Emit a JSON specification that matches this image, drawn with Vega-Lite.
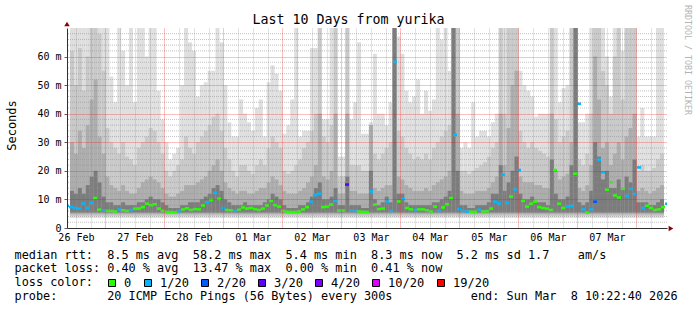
{
"$schema": "https://vega.github.io/schema/vega-lite/v6.json",
"width": 600, "height": 200,
"autosize": "none",
"padding": {"left": 67, "top": 28, "right": 30, "bottom": 82},
"background": "white",
"config": {"view": {"stroke": null}, "font": "DejaVu Sans Mono"},
"title": {"text": "Last 10 Days from yurika", "font": "DejaVu Sans Mono", "fontSize": 13.3, "fontWeight": "normal", "color": "#000", "anchor": "middle", "frame": "group", "dx": -18.5, "offset": 0, "dy": 32, "baseline": "alphabetic"},
"data": {"values": [
{"t":"2026-02-26T10:24Z","m":7.8,"l":"1/20","a":70,"b":62,"c":30,"d":13},
{"t":"2026-02-26T12:00Z","m":7.3,"l":"1/20","a":70,"b":50,"c":26,"d":12},
{"t":"2026-02-26T13:36Z","m":7.0,"l":"1/20","a":70,"b":63,"c":34,"d":14},
{"t":"2026-02-26T15:12Z","m":6.8,"l":"1/20","a":70,"b":48,"c":28,"d":12},
{"t":"2026-02-26T16:48Z","m":8.6,"l":"1/20","a":70,"b":60,"c":36,"d":15},
{"t":"2026-02-26T18:24Z","m":7.0,"l":"1/20","a":70,"b":70,"c":45,"d":18},
{"t":"2026-02-26T20:00Z","m":8.8,"l":"1/20","a":70,"b":70,"c":52,"d":20},
{"t":"2026-02-26T21:36Z","m":10.5,"l":"0","a":70,"b":68,"c":32,"d":16},
{"t":"2026-02-26T23:12Z","m":6.4,"l":"0","a":70,"b":55,"c":26,"d":11},
{"t":"2026-02-27T00:48Z","m":6.2,"l":"1/20","a":70,"b":35,"c":18,"d":9},
{"t":"2026-02-27T02:24Z","m":6.0,"l":"0","a":53,"b":30,"c":15,"d":9},
{"t":"2026-02-27T04:00Z","m":6.0,"l":"0","a":44,"b":28,"c":14,"d":8},
{"t":"2026-02-27T05:36Z","m":5.8,"l":"0","a":70,"b":26,"c":13,"d":8},
{"t":"2026-02-27T07:12Z","m":6.5,"l":"1/20","a":62,"b":30,"c":15,"d":9},
{"t":"2026-02-27T08:48Z","m":6.2,"l":"0","a":50,"b":25,"c":13,"d":8},
{"t":"2026-02-27T10:24Z","m":6.0,"l":"0","a":70,"b":24,"c":12,"d":8},
{"t":"2026-02-27T12:00Z","m":6.3,"l":"1/20","a":44,"b":22,"c":12,"d":8},
{"t":"2026-02-27T13:36Z","m":6.8,"l":"0","a":70,"b":28,"c":14,"d":9},
{"t":"2026-02-27T15:12Z","m":6.8,"l":"0","a":70,"b":30,"c":16,"d":9},
{"t":"2026-02-27T16:48Z","m":7.3,"l":"0","a":60,"b":32,"c":17,"d":10},
{"t":"2026-02-27T18:24Z","m":8.5,"l":"0","a":70,"b":35,"c":18,"d":11},
{"t":"2026-02-27T20:00Z","m":8.0,"l":"0","a":70,"b":34,"c":17,"d":10},
{"t":"2026-02-27T21:36Z","m":8.3,"l":"0","a":48,"b":30,"c":16,"d":10},
{"t":"2026-02-27T23:12Z","m":6.8,"l":"0","a":38,"b":26,"c":14,"d":9},
{"t":"2026-02-28T00:48Z","m":6.0,"l":"0","a":30,"b":20,"c":12,"d":8},
{"t":"2026-02-28T02:24Z","m":5.6,"l":"0","a":24,"b":18,"c":11,"d":7},
{"t":"2026-02-28T04:00Z","m":5.6,"l":"0","a":26,"b":20,"c":11,"d":7},
{"t":"2026-02-28T05:36Z","m":5.5,"l":"0","a":28,"b":22,"c":12,"d":7},
{"t":"2026-02-28T07:12Z","m":5.9,"l":"1/20","a":50,"b":24,"c":13,"d":8},
{"t":"2026-02-28T08:48Z","m":6.5,"l":"0","a":70,"b":32,"c":15,"d":8},
{"t":"2026-02-28T10:24Z","m":6.9,"l":"0","a":65,"b":28,"c":15,"d":9},
{"t":"2026-02-28T12:00Z","m":6.3,"l":"0","a":62,"b":26,"c":15,"d":9},
{"t":"2026-02-28T13:36Z","m":6.6,"l":"0","a":46,"b":30,"c":16,"d":9},
{"t":"2026-02-28T15:12Z","m":6.5,"l":"0","a":50,"b":32,"c":17,"d":10},
{"t":"2026-02-28T16:48Z","m":7.9,"l":"0","a":51,"b":34,"c":18,"d":11},
{"t":"2026-02-28T18:24Z","m":9.0,"l":"1/20","a":55,"b":36,"c":20,"d":12},
{"t":"2026-02-28T20:00Z","m":9.8,"l":"0","a":55,"b":39,"c":22,"d":14},
{"t":"2026-02-28T21:36Z","m":12.3,"l":"1/20","a":70,"b":40,"c":24,"d":15},
{"t":"2026-02-28T23:12Z","m":10.2,"l":"0","a":65,"b":34,"c":20,"d":13},
{"t":"2026-03-01T00:48Z","m":7.0,"l":"1/20","a":50,"b":28,"c":16,"d":10},
{"t":"2026-03-01T02:24Z","m":6.3,"l":"0","a":37,"b":24,"c":14,"d":9},
{"t":"2026-03-01T04:00Z","m":6.2,"l":"0","a":32,"b":20,"c":13,"d":8},
{"t":"2026-03-01T05:36Z","m":6.0,"l":"1/20","a":32,"b":18,"c":12,"d":8},
{"t":"2026-03-01T07:12Z","m":6.4,"l":"0","a":45,"b":22,"c":13,"d":8},
{"t":"2026-03-01T08:48Z","m":7.2,"l":"0","a":40,"b":22,"c":13,"d":9},
{"t":"2026-03-01T10:24Z","m":6.8,"l":"0","a":37,"b":20,"c":12,"d":8},
{"t":"2026-03-01T12:00Z","m":7.0,"l":"0","a":34,"b":19,"c":12,"d":8},
{"t":"2026-03-01T13:36Z","m":6.6,"l":"0","a":42,"b":22,"c":13,"d":8},
{"t":"2026-03-01T15:12Z","m":6.3,"l":"0","a":45,"b":24,"c":14,"d":8},
{"t":"2026-03-01T16:48Z","m":6.8,"l":"0","a":32,"b":22,"c":14,"d":9},
{"t":"2026-03-01T18:24Z","m":7.9,"l":"0","a":51,"b":28,"c":16,"d":10},
{"t":"2026-03-01T20:00Z","m":9.5,"l":"0","a":57,"b":32,"c":18,"d":12},
{"t":"2026-03-01T21:36Z","m":8.0,"l":"0","a":54,"b":30,"c":17,"d":11},
{"t":"2026-03-01T23:12Z","m":7.5,"l":"0","a":48,"b":28,"c":15,"d":10},
{"t":"2026-03-02T00:48Z","m":6.0,"l":"0","a":33,"b":20,"c":13,"d":8},
{"t":"2026-03-02T02:24Z","m":5.7,"l":"0","a":36,"b":19,"c":12,"d":7},
{"t":"2026-03-02T04:00Z","m":5.6,"l":"0","a":45,"b":20,"c":12,"d":7},
{"t":"2026-03-02T05:36Z","m":5.6,"l":"0","a":70,"b":22,"c":12,"d":7},
{"t":"2026-03-02T07:12Z","m":5.8,"l":"0","a":32,"b":24,"c":13,"d":8},
{"t":"2026-03-02T08:48Z","m":6.5,"l":"0","a":34,"b":28,"c":14,"d":8},
{"t":"2026-03-02T10:24Z","m":7.3,"l":"0","a":34,"b":30,"c":16,"d":9},
{"t":"2026-03-02T12:00Z","m":9.2,"l":"1/20","a":63,"b":34,"c":18,"d":11},
{"t":"2026-03-02T13:36Z","m":11.5,"l":"1/20","a":63,"b":40,"c":22,"d":14},
{"t":"2026-03-02T15:12Z","m":12.0,"l":"1/20","a":70,"b":70,"c":40,"d":16},
{"t":"2026-03-02T16:48Z","m":7.3,"l":"0","a":38,"b":32,"c":18,"d":10},
{"t":"2026-03-02T18:24Z","m":7.5,"l":"0","a":38,"b":30,"c":17,"d":10},
{"t":"2026-03-02T20:00Z","m":8.2,"l":"0","a":70,"b":36,"c":20,"d":11},
{"t":"2026-03-02T21:36Z","m":9.5,"l":"1/20","a":70,"b":70,"c":40,"d":14},
{"t":"2026-03-02T23:12Z","m":6.1,"l":"0","a":25,"b":18,"c":12,"d":8},
{"t":"2026-03-03T00:48Z","m":6.1,"l":"0","a":25,"b":18,"c":12,"d":8},
{"t":"2026-03-03T02:24Z","m":15.2,"l":"3/20","a":70,"b":70,"c":40,"d":18},
{"t":"2026-03-03T04:00Z","m":6.1,"l":"1/20","a":38,"b":22,"c":13,"d":8},
{"t":"2026-03-03T05:36Z","m":6.0,"l":"1/20","a":44,"b":22,"c":13,"d":8},
{"t":"2026-03-03T07:12Z","m":5.8,"l":"0","a":65,"b":22,"c":12,"d":8},
{"t":"2026-03-03T08:48Z","m":5.7,"l":"0","a":33,"b":20,"c":12,"d":7},
{"t":"2026-03-03T10:24Z","m":5.6,"l":"0","a":33,"b":20,"c":12,"d":7},
{"t":"2026-03-03T12:00Z","m":12.8,"l":"1/20","a":37,"b":36,"c":36,"d":20},
{"t":"2026-03-03T13:36Z","m":8.2,"l":"0","a":61,"b":26,"c":14,"d":10},
{"t":"2026-03-03T15:12Z","m":6.6,"l":"0","a":40,"b":24,"c":13,"d":8},
{"t":"2026-03-03T16:48Z","m":6.8,"l":"0","a":40,"b":26,"c":14,"d":9},
{"t":"2026-03-03T18:24Z","m":9.3,"l":"1/20","a":36,"b":28,"c":15,"d":11},
{"t":"2026-03-03T20:00Z","m":6.0,"l":"1/20","a":44,"b":30,"c":15,"d":9},
{"t":"2026-03-03T21:36Z","m":58.2,"l":"1/20","a":70,"b":70,"c":70,"d":70},
{"t":"2026-03-03T23:12Z","m":9.3,"l":"0","a":67,"b":34,"c":18,"d":12},
{"t":"2026-03-04T00:48Z","m":10.2,"l":"1/20","a":61,"b":32,"c":17,"d":12},
{"t":"2026-03-04T02:24Z","m":7.0,"l":"0","a":48,"b":28,"c":15,"d":9},
{"t":"2026-03-04T04:00Z","m":6.5,"l":"0","a":44,"b":26,"c":14,"d":8},
{"t":"2026-03-04T05:36Z","m":6.3,"l":"1/20","a":46,"b":24,"c":13,"d":8},
{"t":"2026-03-04T07:12Z","m":6.5,"l":"0","a":52,"b":25,"c":13,"d":8},
{"t":"2026-03-04T08:48Z","m":6.5,"l":"0","a":40,"b":24,"c":13,"d":8},
{"t":"2026-03-04T10:24Z","m":6.2,"l":"0","a":48,"b":26,"c":14,"d":8},
{"t":"2026-03-04T12:00Z","m":5.8,"l":"0","a":41,"b":24,"c":13,"d":8},
{"t":"2026-03-04T13:36Z","m":7.5,"l":"0","a":45,"b":28,"c":15,"d":9},
{"t":"2026-03-04T15:12Z","m":6.0,"l":"1/20","a":70,"b":30,"c":16,"d":9},
{"t":"2026-03-04T16:48Z","m":7.2,"l":"0","a":66,"b":32,"c":17,"d":10},
{"t":"2026-03-04T18:24Z","m":8.3,"l":"0","a":70,"b":34,"c":18,"d":11},
{"t":"2026-03-04T20:00Z","m":10.5,"l":"0","a":55,"b":36,"c":20,"d":13},
{"t":"2026-03-04T21:36Z","m":32.6,"l":"1/20","a":70,"b":70,"c":70,"d":70},
{"t":"2026-03-04T23:12Z","m":6.6,"l":"1/20","a":70,"b":70,"c":40,"d":20},
{"t":"2026-03-05T00:48Z","m":6.0,"l":"1/20","a":28,"b":20,"c":13,"d":8},
{"t":"2026-03-05T02:24Z","m":5.8,"l":"1/20","a":30,"b":20,"c":12,"d":8},
{"t":"2026-03-05T04:00Z","m":5.7,"l":"0","a":28,"b":19,"c":12,"d":7},
{"t":"2026-03-05T05:36Z","m":5.7,"l":"0","a":44,"b":20,"c":12,"d":7},
{"t":"2026-03-05T07:12Z","m":6.4,"l":"1/20","a":32,"b":21,"c":13,"d":8},
{"t":"2026-03-05T08:48Z","m":5.8,"l":"0","a":34,"b":22,"c":13,"d":8},
{"t":"2026-03-05T10:24Z","m":5.9,"l":"0","a":34,"b":23,"c":13,"d":8},
{"t":"2026-03-05T12:00Z","m":6.8,"l":"0","a":32,"b":25,"c":14,"d":9},
{"t":"2026-03-05T13:36Z","m":9.2,"l":"1/20","a":37,"b":28,"c":16,"d":12},
{"t":"2026-03-05T15:12Z","m":8.6,"l":"1/20","a":40,"b":30,"c":18,"d":12},
{"t":"2026-03-05T16:48Z","m":18.6,"l":"1/20","a":70,"b":70,"c":40,"d":22},
{"t":"2026-03-05T18:24Z","m":8.8,"l":"1/20","a":70,"b":40,"c":22,"d":13},
{"t":"2026-03-05T20:00Z","m":11.0,"l":"0","a":70,"b":70,"c":35,"d":16},
{"t":"2026-03-05T21:36Z","m":13.5,"l":"1/20","a":70,"b":70,"c":50,"d":20},
{"t":"2026-03-05T23:12Z","m":20.3,"l":"1/20","a":70,"b":70,"c":55,"d":25},
{"t":"2026-03-06T00:48Z","m":9.5,"l":"0","a":55,"b":34,"c":18,"d":12},
{"t":"2026-03-06T02:24Z","m":7.5,"l":"0","a":50,"b":30,"c":16,"d":10},
{"t":"2026-03-06T04:00Z","m":8.5,"l":"0","a":48,"b":28,"c":16,"d":10},
{"t":"2026-03-06T05:36Z","m":9.2,"l":"0","a":46,"b":30,"c":16,"d":11},
{"t":"2026-03-06T07:12Z","m":7.3,"l":"0","a":39,"b":28,"c":15,"d":9},
{"t":"2026-03-06T08:48Z","m":7.0,"l":"0","a":40,"b":27,"c":15,"d":9},
{"t":"2026-03-06T10:24Z","m":6.8,"l":"0","a":40,"b":26,"c":14,"d":9},
{"t":"2026-03-06T12:00Z","m":6.3,"l":"0","a":40,"b":25,"c":14,"d":8},
{"t":"2026-03-06T13:36Z","m":20.3,"l":"0","a":70,"b":70,"c":40,"d":24},
{"t":"2026-03-06T15:12Z","m":8.5,"l":"0","a":70,"b":38,"c":20,"d":12},
{"t":"2026-03-06T16:48Z","m":7.0,"l":"0","a":44,"b":30,"c":17,"d":10},
{"t":"2026-03-06T18:24Z","m":7.5,"l":"1/20","a":49,"b":32,"c":18,"d":10},
{"t":"2026-03-06T20:00Z","m":7.7,"l":"1/20","a":50,"b":34,"c":19,"d":11},
{"t":"2026-03-06T21:36Z","m":19.0,"l":"0","a":70,"b":70,"c":30,"d":22},
{"t":"2026-03-06T23:12Z","m":43.5,"l":"1/20","a":70,"b":70,"c":70,"d":70},
{"t":"2026-03-07T00:48Z","m":6.5,"l":"1/20","a":37,"b":24,"c":14,"d":9},
{"t":"2026-03-07T02:24Z","m":5.4,"l":"0","a":37,"b":22,"c":13,"d":8},
{"t":"2026-03-07T04:00Z","m":6.5,"l":"1/20","a":40,"b":26,"c":15,"d":9},
{"t":"2026-03-07T05:36Z","m":9.2,"l":"2/20","a":70,"b":40,"c":22,"d":13},
{"t":"2026-03-07T07:12Z","m":23.9,"l":"1/20","a":70,"b":70,"c":60,"d":30},
{"t":"2026-03-07T08:48Z","m":19.5,"l":"1/20","a":70,"b":70,"c":45,"d":25},
{"t":"2026-03-07T10:24Z","m":13.4,"l":"0","a":70,"b":55,"c":28,"d":17},
{"t":"2026-03-07T12:00Z","m":16.0,"l":"0","a":60,"b":50,"c":30,"d":20},
{"t":"2026-03-07T13:36Z","m":11.4,"l":"0","a":46,"b":40,"c":22,"d":14},
{"t":"2026-03-07T15:12Z","m":10.7,"l":"0","a":70,"b":60,"c":26,"d":14},
{"t":"2026-03-07T16:48Z","m":13.7,"l":"0","a":70,"b":70,"c":30,"d":17},
{"t":"2026-03-07T18:24Z","m":11.2,"l":"1/20","a":62,"b":45,"c":24,"d":14},
{"t":"2026-03-07T20:00Z","m":13.7,"l":"1/20","a":70,"b":70,"c":32,"d":18},
{"t":"2026-03-07T21:36Z","m":11.9,"l":"1/20","a":70,"b":70,"c":35,"d":16},
{"t":"2026-03-07T23:12Z","m":21.2,"l":"1/20","a":70,"b":70,"c":40,"d":24},
{"t":"2026-03-08T00:48Z","m":7.0,"l":"1/20","a":32,"b":20,"c":13,"d":9},
{"t":"2026-03-08T02:24Z","m":7.8,"l":"0","a":42,"b":22,"c":14,"d":9},
{"t":"2026-03-08T04:00Z","m":7.0,"l":"0","a":32,"b":20,"c":13,"d":9},
{"t":"2026-03-08T05:36Z","m":6.3,"l":"0","a":32,"b":20,"c":12,"d":8},
{"t":"2026-03-08T07:12Z","m":6.5,"l":"0","a":32,"b":21,"c":13,"d":8},
{"t":"2026-03-08T08:48Z","m":7.3,"l":"0","a":70,"b":24,"c":14,"d":9},
{"t":"2026-03-08T10:24Z","m":8.5,"l":"1/20","a":70,"b":26,"c":15,"d":10}
]},
"layer": [
{"transform": [
   {"fold": ["a", "b", "c", "d"], "as": ["k", "v"]},
   {"lookup": "k", "from": {"data": {"values": [{"k": "a", "lo": 3.5}, {"k": "b", "lo": 4.2}, {"k": "c", "lo": 4.8}, {"k": "d", "lo": 5.4}]}, "key": "k", "fields": ["lo"]}}
 ],
 "mark": {"type": "bar", "width": 4, "clip": true},
 "encoding": {
  "x": {"field": "t", "type": "temporal",
    "scale": {"type": "utc", "domain": [1772101440000, 1772965440000], "nice": false},
    "axis": {
      "values": [1772107200000, 1772128800000, 1772150400000, 1772172000000, 1772193600000, 1772215200000, 1772236800000, 1772258400000, 1772280000000, 1772301600000, 1772323200000, 1772344800000, 1772366400000, 1772388000000, 1772409600000, 1772431200000, 1772452800000, 1772474400000, 1772496000000, 1772517600000, 1772539200000, 1772560800000, 1772582400000, 1772604000000, 1772625600000, 1772647200000, 1772668800000, 1772690400000, 1772712000000, 1772733600000, 1772755200000, 1772776800000, 1772798400000, 1772820000000, 1772841600000, 1772863200000, 1772884800000, 1772906400000, 1772928000000, 1772949600000],
      "labelExpr": "utchours(datum.value) == 12 ? utcFormat(datum.value, '%d %b') : ''",
      "labelFont": "DejaVu Sans Mono", "labelFontSize": 10, "labelColor": "#000", "labelPadding": 12.7, "labelBaseline": "alphabetic", "labelFlush": false, "labelOverlap": false, "labelAngle": 0, "labelAlign": "center",
      "ticks": false,
      "grid": true, "gridColor": {"condition": {"test": "utchours(datum.value) == 0", "value": "#ff0000"}, "value": "#909090"}, "gridOpacity": 0.5, "gridDash": [1, 1],
      "domainColor": "#303030", "zindex": 1,
      "title": ["median rtt:\u00a0\u00a08.5 ms avg\u00a0\u00a058.2 ms max\u00a0\u00a05.4 ms min\u00a0\u00a08.3 ms now\u00a0\u00a05.2 ms sd 1.7\u00a0\u00a0\u00a0\u00a0am/s", "packet loss: 0.40 % avg\u00a0\u00a013.47 % max\u00a0\u00a00.00 % min\u00a0\u00a00.41 % now", "loss color:", "probe:\u00a0\u00a0\u00a0\u00a0\u00a0\u00a0\u00a020 ICMP Echo Pings (56 Bytes) every 300s\u00a0\u00a0\u00a0\u00a0\u00a0\u00a0\u00a0\u00a0\u00a0\u00a0\u00a0end: Sun Mar\u00a0\u00a08 10:22:40 2026"],
      "titleFont": "DejaVu Sans Mono", "titleFontSize": 11.85, "titleFontWeight": "normal", "titleColor": "#000", "titleAlign": "left", "titleAnchor": "start", "titleBaseline": "alphabetic", "titleX": -53, "titleY": 30.3, "titleLineHeight": 13.7
    }},
  "y": {"field": "v", "type": "quantitative", "scale": {"domain": [0, 70], "nice": false, "zero": false},
    "axis": {
      "values": [0, 10, 20, 30, 40, 50, 60],
      "labelExpr": "datum.value == 0 ? '0' : datum.value + ' m'",
      "labelFont": "DejaVu Sans Mono", "labelFontSize": 10, "labelColor": "#000", "labelPadding": 3, "labelBaseline": "middle", "labelOverlap": false,
      "tickSize": 3, "tickColor": "#606060",
      "grid": true, "gridColor": "#ff0000", "gridOpacity": {"condition": {"test": "datum.value == 0", "value": 0}, "value": 0.5}, "gridDash": [1, 1],
      "domainColor": "#303030", "zindex": 1,
      "title": "Seconds", "titleFont": "DejaVu Sans Mono", "titleFontSize": 12, "titleFontWeight": "normal", "titleColor": "#000", "titleX": -52, "titleY": 97, "titleAngle": 270, "titleAlign": "center", "titleBaseline": "alphabetic"
    }},
  "y2": {"field": "lo"},
  "color": {"field": "k", "type": "nominal", "scale": {"domain": ["a", "b", "c", "d"], "range": ["#dfdfdf", "#c9c9c9", "#adadad", "#7c7c7c"]}, "legend": null},
  "order": {"field": "k", "type": "nominal"}
 }},
{"mark": {"type": "tick", "orient": "horizontal", "thickness": 2.6, "size": 4, "opacity": 1, "clip": true},
 "encoding": {
  "x": {"field": "t", "type": "temporal", "scale": {"type": "utc", "domain": [1772101440000, 1772965440000], "nice": false}, "axis": null},
  "y": {"field": "m", "type": "quantitative", "scale": {"domain": [0, 70], "nice": false, "zero": false}, "axis": null},
  "color": {"field": "l", "type": "nominal",
    "scale": {"domain": ["0", "1/20", "2/20", "3/20", "4/20", "10/20", "19/20"], "range": ["#26ff00", "#00b8ff", "#0059ff", "#5e00ff", "#7e00ff", "#dd00ff", "#ff0000"]},
    "legend": {"orient": "none", "legendX": 39, "legendY": 249, "direction": "horizontal", "title": null, "symbolType": "square", "symbolSize": 49, "symbolStrokeColor": "#000", "symbolStrokeWidth": 1, "symbolOpacity": 1, "labelFont": "DejaVu Sans Mono", "labelFontSize": 12, "labelColor": "#000", "labelOffset": 6, "columnPadding": 10, "padding": 0}}
 }},
{"data": {"values": [{"g": 2}, {"g": 4}, {"g": 6}, {"g": 8}, {"g": 12}, {"g": 14}, {"g": 16}, {"g": 18}, {"g": 22}, {"g": 24}, {"g": 26}, {"g": 28}, {"g": 32}, {"g": 34}, {"g": 36}, {"g": 38}, {"g": 42}, {"g": 44}, {"g": 46}, {"g": 48}, {"g": 52}, {"g": 54}, {"g": 56}, {"g": 58}, {"g": 62}, {"g": 64}, {"g": 66}, {"g": 68}]},
 "mark": {"type": "rule", "color": "#909090", "strokeDash": [1, 1], "opacity": 0.55, "strokeWidth": 1},
 "encoding": {"y": {"field": "g", "type": "quantitative", "scale": {"domain": [0, 70], "nice": false, "zero": false}, "axis": null}}},
{"data": {"values": [{"s": "RRDTOOL / TOBI OETIKER"}]},
 "mark": {"type": "text", "angle": 90, "align": "left", "baseline": "alphabetic", "font": "DejaVu Sans Mono", "fontSize": 8.3, "color": "#b4b4b4"},
 "encoding": {
  "x": {"datum": 1772991360000, "type": "temporal", "scale": {"type": "utc", "domain": [1772101440000, 1772965440000], "nice": false}, "axis": null},
  "y": {"datum": 78.05, "type": "quantitative", "scale": {"domain": [0, 70], "nice": false, "zero": false}, "axis": null},
  "text": {"field": "s"}
 }},
{"data": {"values": [{"p": "x"}]},
 "mark": {"type": "point", "shape": "triangle-right", "filled": true, "color": "#8b0000", "size": 30, "opacity": 1},
 "encoding": {
  "x": {"datum": 1772971200000, "type": "temporal", "scale": {"type": "utc", "domain": [1772101440000, 1772965440000], "nice": false}, "axis": null},
  "y": {"datum": -0.2, "type": "quantitative", "scale": {"domain": [0, 70], "nice": false, "zero": false}, "axis": null}
 }},
{"data": {"values": [{"p": "y"}]},
 "mark": {"type": "point", "shape": "triangle-up", "filled": true, "color": "#8b0000", "size": 30, "opacity": 1},
 "encoding": {
  "x": {"datum": 1772101440000, "type": "temporal", "scale": {"type": "utc", "domain": [1772101440000, 1772965440000], "nice": false}, "axis": null},
  "y": {"datum": 71.4, "type": "quantitative", "scale": {"domain": [0, 70], "nice": false, "zero": false}, "axis": null}
 }}
],
"resolve": {"scale": {"x": "independent", "y": "independent", "color": "independent"}}
}
